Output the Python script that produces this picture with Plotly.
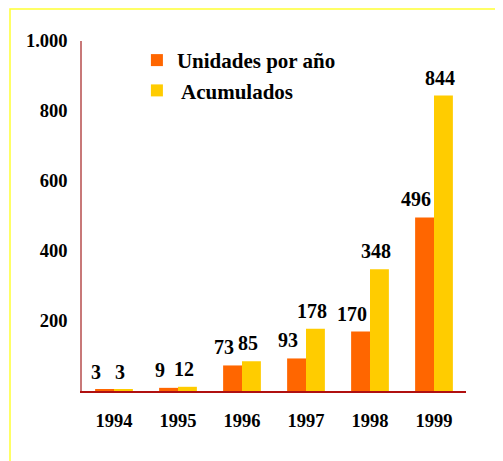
import plotly.graph_objects as go

years = ["1994", "1995", "1996", "1997", "1998", "1999"]
unidades = [3, 9, 73, 93, 170, 496]
acumulados = [3, 12, 85, 178, 348, 844]
y_tickvals = [200, 400, 600, 800, 1000]
y_ticktext = ["200", "400", "600", "800", "1.000"]

font_family = "Liberation Serif"
ORANGE = "#FF6600"
YELLOW = "#FFCC00"

fig = go.Figure()
fig.add_trace(go.Bar(
    x=years, y=unidades, name="<b>Unidades por año</b>",
    marker=dict(color=ORANGE, line=dict(width=0)),
    legendgroup="a",
))
fig.add_trace(go.Bar(
    x=years, y=acumulados, name="<b> Acumulados</b>",
    marker=dict(color=YELLOW, line=dict(width=0)),
    legendgroup="b",
))

# value labels above bars (slightly left of each bar, as in the original)
annotations = []
for series, xshift in ((unidades, -18), (acumulados, 6)):
    for i, v in enumerate(series):
        annotations.append(dict(
            x=i, y=v, xref="x", yref="y", text=f"<b>{v}</b>",
            showarrow=False, xanchor="center", yanchor="bottom",
            xshift=xshift, yshift=5,
            font=dict(family=font_family, size=20, color="black"),
        ))

fig.update_layout(
    width=495, height=453,
    margin=dict(l=74, r=37, t=33, b=70),
    paper_bgcolor="white", plot_bgcolor="white",
    barmode="group", bargap=0.41, bargroupgap=0,
    showlegend=True,
    legend=dict(
        x=0.143, y=1.003, xanchor="left", yanchor="top",
        bgcolor="rgba(0,0,0,0)",
        font=dict(family=font_family, size=21, color="black"),
        tracegroupgap=17, traceorder="normal",
    ),
    xaxis=dict(
        type="category", range=[-0.5, len(years) - 0.5],
        showline=True, linecolor="#B01010", linewidth=1.5,
        showgrid=False, ticks="", zeroline=False,
        tickvals=years, ticktext=[f"<b>{y}</b>" for y in years],
        tickfont=dict(family=font_family, size=18.5, color="black"),
        ticklabelstandoff=12,
    ),
    yaxis=dict(
        range=[0, 1000], showline=True, linecolor="#C87878", linewidth=1.5,
        showgrid=False, zeroline=False, ticks="",
        tickvals=y_tickvals, ticktext=[f"<b>{t}</b>" for t in y_ticktext],
        tickfont=dict(family=font_family, size=18.5, color="black"),
        ticklabelstandoff=9,
    ),
    annotations=annotations,
    shapes=[dict(
        type="rect", xref="paper", yref="paper",
        x0=-0.1875, x1=1.3, y0=-0.4, y1=1.0914,
        line=dict(color="#FFFF33", width=1.5), fillcolor="rgba(0,0,0,0)",
        layer="below",
    )],
)

fig.write_html("out.html")
